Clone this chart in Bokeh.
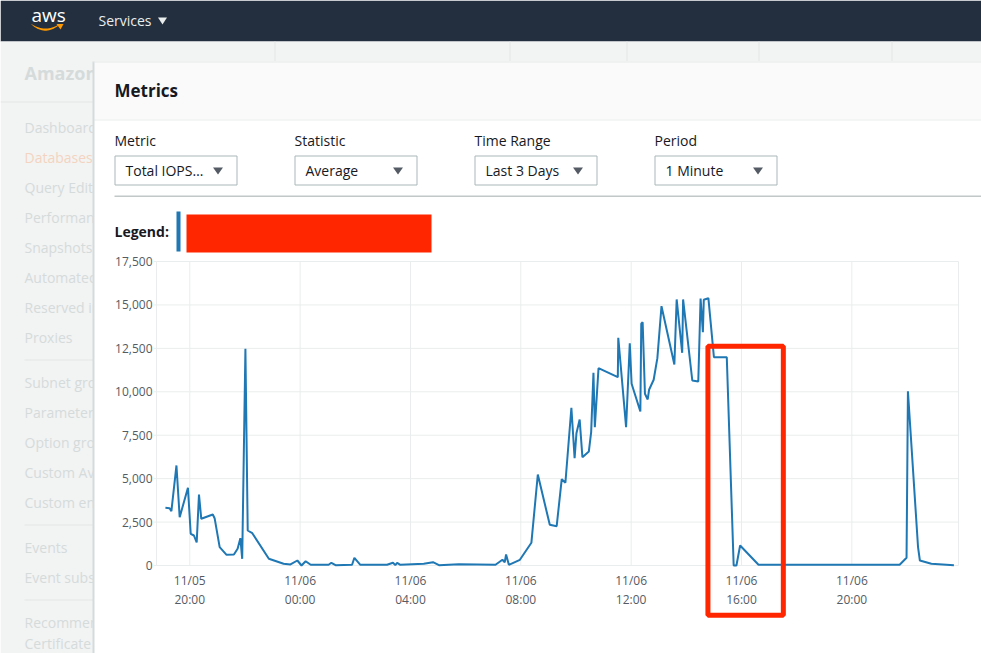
import numpy as np
import pandas as pd
from bokeh.plotting import figure
from bokeh.models import Range1d
from bokeh.core.properties import value
from bokeh.embed import file_html
from bokeh.resources import INLINE

# ---------------- data ----------------
times = [
    "2020-11-05 19:07", "2020-11-05 19:16", "2020-11-05 19:20", "2020-11-05 19:31", "2020-11-05 19:38",
    "2020-11-05 19:56", "2020-11-05 20:02", "2020-11-05 20:09", "2020-11-05 20:15", "2020-11-05 20:20",
    "2020-11-05 20:25", "2020-11-05 20:50", "2020-11-05 20:54", "2020-11-05 21:05", "2020-11-05 21:20",
    "2020-11-05 21:36", "2020-11-05 21:44", "2020-11-05 21:50", "2020-11-05 21:54", "2020-11-05 22:01",
    "2020-11-05 22:06", "2020-11-05 22:16", "2020-11-05 22:52", "2020-11-05 23:24", "2020-11-05 23:39",
    "2020-11-05 23:54", "2020-11-06 00:03", "2020-11-06 00:12", "2020-11-06 00:23", "2020-11-06 01:02",
    "2020-11-06 01:08", "2020-11-06 01:17", "2020-11-06 01:53", "2020-11-06 01:58", "2020-11-06 02:11",
    "2020-11-06 03:09", "2020-11-06 03:22", "2020-11-06 03:27", "2020-11-06 03:31", "2020-11-06 03:38",
    "2020-11-06 04:29", "2020-11-06 04:49", "2020-11-06 05:02", "2020-11-06 05:45", "2020-11-06 07:05",
    "2020-11-06 07:20", "2020-11-06 07:25", "2020-11-06 07:28", "2020-11-06 07:34", "2020-11-06 07:58",
    "2020-11-06 08:23", "2020-11-06 08:37", "2020-11-06 09:03", "2020-11-06 09:18", "2020-11-06 09:29",
    "2020-11-06 09:37", "2020-11-06 09:50", "2020-11-06 09:57", "2020-11-06 10:01", "2020-11-06 10:08",
    "2020-11-06 10:14", "2020-11-06 10:28", "2020-11-06 10:33", "2020-11-06 10:38", "2020-11-06 10:41",
    "2020-11-06 10:49", "2020-11-06 11:31", "2020-11-06 11:32", "2020-11-06 11:49", "2020-11-06 11:57",
    "2020-11-06 12:01", "2020-11-06 12:20", "2020-11-06 12:22", "2020-11-06 12:25", "2020-11-06 12:30",
    "2020-11-06 12:36", "2020-11-06 12:39", "2020-11-06 12:49", "2020-11-06 12:57", "2020-11-06 13:06",
    "2020-11-06 13:34", "2020-11-06 13:39", "2020-11-06 13:51", "2020-11-06 13:53", "2020-11-06 14:13",
    "2020-11-06 14:26", "2020-11-06 14:31", "2020-11-06 14:36", "2020-11-06 14:38", "2020-11-06 14:48",
    "2020-11-06 15:00", "2020-11-06 15:28", "2020-11-06 15:43", "2020-11-06 15:49", "2020-11-06 15:57",
    "2020-11-06 16:37", "2020-11-06 18:52", "2020-11-06 21:17", "2020-11-06 21:44", "2020-11-06 21:59",
    "2020-11-06 22:02", "2020-11-06 22:24", "2020-11-06 22:28", "2020-11-06 22:53", "2020-11-06 23:42",
]
iops = [
    3320, 3300, 3130, 5760, 2780,
    4470, 1825, 1727, 1324, 4087,
    2688, 2936, 2723, 1054, 616,
    633, 961, 1572, 386, 12480,
    2015, 1860, 386, 98, 60,
    288, 0, 248, 40, 40,
    155, 20, 40, 443, 40,
    40, 155, 20, 155, 40,
    98, 190, 20, 75, 40,
    328, 190, 633, 40, 328,
    1307, 5239, 2343, 2262, 4968,
    4761, 9079, 6177, 7616, 8405,
    6235, 6563, 7674, 11094, 7962,
    11358, 10840, 13109, 7962, 12798,
    10460, 8866, 13915, 14007, 9885,
    9557, 10115, 10691, 11934, 14928,
    11572, 15314, 12245, 15314, 10650,
    10593, 15371, 13431, 15296, 15388,
    11992, 11992, 0, 0, 1151,
    40, 40, 40, 40, 443,
    10034, 1054, 288, 98, 17,
]
x_tick_times = ["2020-11-05 20:00", "2020-11-06 00:00", "2020-11-06 04:00", "2020-11-06 08:00",
                "2020-11-06 12:00", "2020-11-06 16:00", "2020-11-06 20:00"]
y_ticks = [0, 2500, 5000, 7500, 10000, 12500, 15000, 17500]
x_start, x_end = "2020-11-05 18:47:36", "2020-11-06 23:52:00"
y_start, y_end = 0, 17500
highlight = ("2020-11-06 14:47", "2020-11-06 17:31", 12620)   # red box: from, to, top value

sidebar_items = ["Dashboard", "Databases", "Query Editor", "Performance", "Snapshots",
                 "Automated", "Reserved in", "Proxies",
                 "Subnet gro", "Parameter", "Option gro", "Custom Av",
                 "Custom en", "Events", "Event subs",
                 "Recommen", "Certificate"]
controls = [("Metric", "Total IOPS\u2026"), ("Statistic", "Average"),
            ("Time Range", "Last 3 Days"), ("Period", "1 Minute")]

# ---------------- helpers ----------------
def ms(t):
    return (pd.Timestamp(t) - pd.Timestamp("1970-01-01")) / pd.Timedelta(milliseconds=1)

FONT = value("Open Sans")
W, H = 981, 653
# plot frame of the chart inside the page (pixels)
FL, FR, FT, FB = 156, 958, 261, 565

t0, t1 = ms(x_start), ms(x_end)
tpp = (t1 - t0) / (FR - FL)
vpp = (y_end - y_start) / (FB - FT)

p = figure(width=W, height=H, x_range=Range1d(0, W), y_range=Range1d(H, 0),
           x_axis_location=None, y_axis_location=None, min_border=0,
           output_backend="svg", toolbar_location=None)
p.extra_x_ranges = {"t": Range1d(t0 - FL * tpp, t1 + (W - FR) * tpp)}
p.extra_y_ranges = {"v": Range1d(y_start - (H - FB) * vpp, y_end + FT * vpp)}
p.grid.visible = False
p.outline_line_color = None
p.background_fill_color = "white"
p.border_fill_color = "white"


def rect(l, t, r, b, fill=None, line=None, lw=1):
    p.quad(left=[l], right=[r], top=[t], bottom=[b],
           fill_color=fill if fill else "white", fill_alpha=1 if fill else 0,
           line_color=line if line else "white", line_alpha=1 if line else 0, line_width=lw)


def text(x, y, s, size="14px", color="#16191f", style="normal", align="left"):
    p.text(x=[x], y=[y], text=[s], text_font=FONT, text_font_size=size, text_color=color,
           text_font_style=style, text_align=align, text_baseline="middle")


def tri(cx, cy, color, w=10, h=7):
    p.patch(x=[cx - w / 2, cx + w / 2, cx], y=[cy - h / 2, cy - h / 2, cy + h / 2],
            fill_color=color, line_alpha=0)


# ---------------- page chrome ----------------
rect(0, 0, W, 41, fill="#232f3e")
rect(0, 41, W, H, fill="#f2f3f3")
for vx in (274, 509, 626, 758, 891):
    rect(vx, 41, vx + 1, 61, fill="#e3e6e6")
text(31, 14, "aws", size="19px", color="#ffffff")
sx = np.linspace(31, 59, 20)
upper = 23.5 + 4.5 * (1 - ((sx - 45) / 14) ** 2)
lower = upper + 2.2 - 1.6 * ((sx - 45) / 14) ** 2
p.patch(x=list(sx) + list(sx[::-1]), y=list(upper) + list(lower[::-1]),
        fill_color="#ff9900", line_alpha=0)
p.patch(x=[56, 63, 60], y=[23.5, 23.5, 29], fill_color="#ff9900", line_alpha=0)
text(98, 20, "Services", size="14px", color="#eaeded")
tri(162, 20.5, "#eaeded", w=9, h=7)

# sidebar (faded, behind the modal)
text(24, 72, "Amazon RDS", size="18px", color="#d5dbdb", style="bold")
rect(0, 101, 93, 102, fill="#e3e6e6")
side_y = [127, 157, 187, 217, 247, 277, 307, 337, 382, 412, 442, 472, 502, 547, 577, 622, 643]
for yy, s in zip(side_y, sidebar_items):
    text(24, yy, s, size="14px", color="#f4d3c0" if s == "Databases" else "#d5dbdb")
for yy in (359, 524, 599):
    rect(24, yy, 93, yy + 1, fill="#e3e6e6")

# modal panel
rect(93, 61, W, H, fill="#ffffff")
rect(93, 61, W, 119, fill="#fafafa")
rect(93, 119, W, 120, fill="#eaeded")
rect(92, 61, 94, H, fill="#d5dbdb")
rect(93, 61, W, 62, fill="#e6e9e9")
text(114, 90, "Metrics", size="17px", color="#16191f", style="bold")

ctrl_x = [114, 294, 474, 654]
for cx, (lab, val) in zip(ctrl_x, controls):
    text(cx, 140, lab, size="14px")
    rect(cx + 0.5, 155.5, cx + 122.5, 184.5, fill="#ffffff", line="#aab7b8", lw=1)
    text(cx + 11, 170, val, size="14px")
    tri(cx + 103.5, 170.5, "#545b64", w=10, h=7)
rect(114, 195, W, 196.5, fill="#c2c8c8")

text(114, 231, "Legend:", size="14px", style="bold")
rect(176, 211, 180, 251, fill="#1f77b4")
rect(186, 214, 431, 252, fill="#ff2600")

# ---------------- chart (through the "t" / "v" scales) ----------------
xt = [ms(t) for t in x_tick_times]
GRID = "#eaeded"
p.segment(x0=[t0] * len(y_ticks), x1=[t1] * len(y_ticks), y0=y_ticks, y1=y_ticks,
          line_color=GRID, line_width=1, x_range_name="t", y_range_name="v")
xv = xt + [t0, t1]
p.segment(x0=xv, x1=xv, y0=[y_start] * len(xv), y1=[y_end] * len(xv),
          line_color=GRID, line_width=1, x_range_name="t", y_range_name="v")
p.ray(x=[t0] * len(y_ticks), y=y_ticks, length=3, angle=np.pi, length_units="screen",
      line_color=GRID, x_range_name="t", y_range_name="v")

p.line(x=[ms(t) for t in times], y=iops, line_color="#1f77b4", line_width=2,
       x_range_name="t", y_range_name="v")

tick_ts = pd.to_datetime(x_tick_times)
p.text(x=xt, y=[y_start] * len(xt), text=[t.strftime("%m/%d") for t in tick_ts],
       y_offset=15, text_align="center", text_baseline="middle",
       text_font=FONT, text_font_size="12px", text_color="#545b64",
       x_range_name="t", y_range_name="v")
p.text(x=xt, y=[y_start] * len(xt), text=[t.strftime("%H:%M") for t in tick_ts],
       y_offset=34, text_align="center", text_baseline="middle",
       text_font=FONT, text_font_size="12px", text_color="#545b64",
       x_range_name="t", y_range_name="v")
p.text(x=[t0] * len(y_ticks), y=y_ticks, text=[f"{v:,}" for v in y_ticks],
       x_offset=-4, text_align="right", text_baseline="middle",
       text_font=FONT, text_font_size="12px", text_color="#545b64",
       x_range_name="t", y_range_name="v")

# red highlight box around the drop
hl_l, hl_r = ms(highlight[0]), ms(highlight[1])
p.quad(left=[hl_l], right=[hl_r], top=[highlight[2]], bottom=[y_start - 49.8 * vpp],
       fill_alpha=0, line_color="#ff2600", line_width=5,
       x_range_name="t", y_range_name="v")

open("out.html", "w").write(file_html(p, INLINE))
